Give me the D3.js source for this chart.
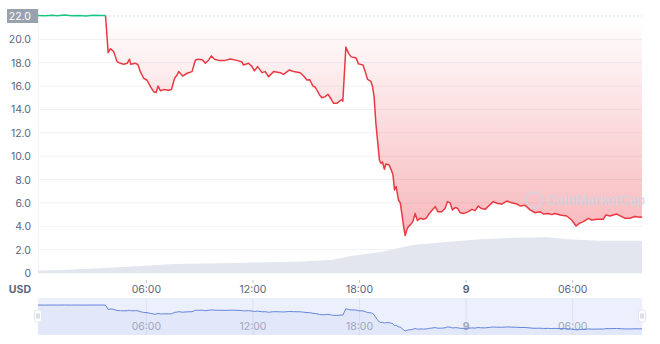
<!DOCTYPE html>
<meta charset="utf-8">
<style>
body { margin: 0; background: #fff; }
text { font-family: Inter, "Noto Sans", sans-serif; }
.ytick { font-size: 10.5px; fill: #58667e; }
.xtick { font-size: 10.5px; fill: #58667e; }
.navtick { font-size: 10.5px; fill: #a1a7bb; }
</style>
<svg width="660" height="344"></svg>
<script src="https://d3js.org/d3.v7.min.js"></script>
<script>

// hours since 00:00 on the 8th, and price in USD
var priceHours = [-0.1, 0.3, 0.7, 1.0, 1.4, 1.8, 2.2, 2.6, 3.0, 3.4, 3.7,
  3.85, 3.98, 4.16, 4.35, 4.54, 4.72, 4.92, 5.05, 5.12, 5.38, 5.52, 5.66, 5.85, 6.04, 6.23, 6.41, 6.55, 6.66, 6.79, 6.97,
  7.26, 7.41, 7.59, 7.73, 7.82, 8.04, 8.29, 8.57, 8.76, 8.94, 9.17, 9.32, 9.51, 9.66, 9.84, 10.07, 10.44, 10.73, 11.1,
  11.38, 11.47, 11.75, 11.95, 12.08, 12.26, 12.51, 12.69, 12.88, 13.16, 13.54, 13.72, 14.06, 14.29, 14.66, 14.85, 15.04,
  15.19, 15.38, 15.51, 15.75, 15.88, 16.07, 16.22, 16.41, 16.54, 16.73, 16.91, 17.01, 17.06, 17.23, 17.38, 17.53, 17.7,
  17.81, 17.94, 18.19, 18.32, 18.45, 18.64, 18.73, 18.82, 18.92, 19.01, 19.12, 19.2, 19.29, 19.4, 19.48, 19.67, 19.82,
  19.88, 19.97, 20.06, 20.19, 20.29, 20.38, 20.48, 20.57, 20.66, 20.75, 20.85, 21.0, 21.13, 21.26, 21.41, 21.6, 21.75,
  21.93, 22.07, 22.26, 22.41, 22.63, 22.82, 22.95, 23.1, 23.23, 23.38, 23.51, 23.66, 23.89, 24.13, 24.32, 24.5, 24.69,
  24.83, 25.07, 25.31, 25.53, 25.73, 26.01, 26.29, 26.57, 26.85, 27.04, 27.32, 27.6, 27.88, 28.16, 28.35, 28.63, 28.82,
  29.0, 29.29, 29.66, 29.94, 30.19, 30.37, 30.6, 30.88, 31.07, 31.35, 31.72, 31.87, 32.1, 32.47, 32.76, 32.94, 33.22,
  33.5, 33.78, 33.9];
var prices = [22.05, 22.02, 22.06, 22.03, 22.08, 22.02, 22.05, 22.0, 22.06, 22.04, 22.04,
  18.86, 19.2, 18.95, 18.1, 17.95, 17.87, 17.95, 18.3, 17.87, 17.95, 17.85, 17.24, 16.67, 16.5, 15.95, 15.52, 15.45, 16.0, 15.6, 15.7,
  15.65, 15.7, 16.67, 16.95, 17.24, 16.86, 17.1, 17.24, 18.24, 18.3, 18.24, 17.95, 18.24, 18.58, 18.3, 18.2, 18.2, 18.32, 18.2,
  18.06, 17.8, 17.95, 17.67, 17.3, 17.67, 17.15, 17.24, 16.8, 17.24, 17.15, 17.0, 17.38, 17.24, 17.15, 16.86, 16.52,
  16.55, 16.0, 15.9, 15.24, 15.0, 15.1, 15.3, 14.87, 14.53, 14.53, 14.75, 14.85, 14.7, 19.35, 18.8, 18.5, 18.45,
  18.4, 17.9, 17.8, 17.24, 16.58, 16.4, 15.96, 15.1, 12.8, 11.39, 9.67, 9.39, 9.5, 8.88, 9.33, 9.25, 8.68,
  8.4, 7.1, 7.4, 6.25, 6.0, 5.11, 4.0, 3.2, 3.7, 3.97, 4.1, 4.4, 5.1, 4.5, 4.68, 4.6, 4.68,
  5.1, 5.34, 5.68, 5.25, 5.25, 5.54, 6.11, 6.0, 5.4, 5.6, 5.55, 5.16, 5.1, 5.25, 5.45, 5.34, 5.74,
  5.54, 5.45, 5.8, 6.11, 5.97, 5.9, 6.16, 6.02, 5.9, 5.74, 5.8, 5.4, 5.16, 5.25, 5.05, 5.1, 5.0,
  5.1, 4.97, 4.88, 4.54, 4.02, 4.25, 4.4, 4.68, 4.54, 4.6, 4.6, 4.97, 4.88, 5.05, 4.83, 4.68, 4.68,
  4.83, 4.77, 4.8];
var openPrice = 22.0;
var greenCount = 11; // points at or above the open price

// 24h volume, millions USD
var volumeHours = [-0.1, 1.2, 3.4, 5.7, 7.5, 10.2, 12.4, 14.7, 16.4, 17.5, 19.2, 21.0, 22.9, 24.8, 26.9, 28.6, 29.7, 31.5, 33.9];
var volumes = [1.9, 2.3, 3.7, 5.4, 7.0, 7.5, 8.2, 8.9, 10.1, 13.2, 16.3, 21.8, 24.1, 26.2, 27.5, 27.8, 26.2, 25.1, 25.1];

var yTicks = [0, 2, 4, 6, 8, 10, 12, 14, 16, 18, 20];
var xTicks = [6, 12, 18, 24, 30];
var xTickLabels = ["06:00", "12:00", "18:00", "9", "06:00"];

var svg = d3.select("svg");

var x = d3.scaleLinear().domain([-0.1, 33.9]).range([38, 642]),
    y = d3.scaleLinear().domain([0, 22]).range([273, 16]),
    yVol = d3.scaleLinear().domain([0, 200]).range([273, 16]);

var defs = svg.append("defs");
var grad = defs.append("linearGradient")
    .attr("id", "redfill")
    .attr("gradientUnits", "userSpaceOnUse")
    .attr("x1", 0).attr("x2", 0)
    .attr("y1", y(openPrice)).attr("y2", y(0));
grad.append("stop").attr("offset", 0).attr("stop-color", "#ea3943").attr("stop-opacity", 0.0);
grad.append("stop").attr("offset", 1).attr("stop-color", "#ea3943").attr("stop-opacity", 0.42);

// grid
svg.append("g").selectAll("line")
  .data(yTicks)
  .enter().append("line")
    .attr("x1", 38).attr("x2", 642)
    .attr("y1", function(d) { return y(d); })
    .attr("y2", function(d) { return y(d); })
    .attr("stroke", "#eff2f5");

svg.append("line")
    .attr("x1", 38.5).attr("x2", 38.5)
    .attr("y1", 8).attr("y2", 273)
    .attr("stroke", "#f1f3f6");

// volume
var volPts = volumeHours.map(function(h, i) { return [h, volumes[i]]; });
svg.append("path")
    .datum(volPts)
    .attr("fill", "#e3e6ee")
    .attr("d", d3.area()
      .x(function(d) { return x(d[0]); })
      .y0(yVol(0))
      .y1(function(d) { return yVol(d[1]); }));

var pts = priceHours.map(function(h, i) { return [h, prices[i]]; });
var greenPts = pts.slice(0, greenCount),
    redPts = pts.slice(greenCount - 1);

var area = d3.area()
    .x(function(d) { return x(d[0]); })
    .y0(y(openPrice))
    .y1(function(d) { return y(d[1]); });
var line = d3.line()
    .x(function(d) { return x(d[0]); })
    .y(function(d) { return y(d[1]); });

svg.append("path").datum(redPts).attr("fill", "url(#redfill)").attr("d", area);
svg.append("path").datum(greenPts).attr("fill", "rgba(22,199,132,0.12)").attr("d", area);

// open price dotted line
svg.append("line")
    .attr("x1", x(priceHours[greenCount - 1])).attr("x2", 642)
    .attr("y1", y(openPrice)).attr("y2", y(openPrice))
    .attr("stroke", "#a6b0c3")
    .attr("stroke-dasharray", "1,3");

// watermark
var wm = svg.append("g").attr("opacity", 0.8);
wm.append("circle").attr("cx", 534).attr("cy", 200).attr("r", 8)
    .attr("fill", "none").attr("stroke", "#cfd6e4").attr("stroke-width", 2);
wm.append("text").attr("x", 547).attr("y", 205)
    .attr("font-size", "13px").attr("font-weight", 600)
    .attr("fill", "#cfd6e4").text("CoinMarketCap");

svg.append("path").datum(redPts)
    .attr("fill", "none").attr("stroke", "#ea3943").attr("stroke-width", 1.5)
    .attr("stroke-linejoin", "round").attr("d", line);
svg.append("path").datum(greenPts)
    .attr("fill", "none").attr("stroke", "#16c784").attr("stroke-width", 1.5)
    .attr("stroke-linejoin", "round").attr("d", line);

// y axis labels
svg.append("g").selectAll("text")
  .data(yTicks)
  .enter().append("text")
    .attr("class", "ytick")
    .attr("x", 31)
    .attr("y", function(d) { return y(d) + 4; })
    .attr("text-anchor", "end")
    .text(function(d) { return d === 0 ? "0" : d.toFixed(1); });

svg.append("rect")
    .attr("x", 7).attr("y", y(openPrice) - 7)
    .attr("width", 31).attr("height", 14)
    .attr("fill", "#9aa1ae");
svg.append("text")
    .attr("class", "ytick")
    .attr("x", 31).attr("y", y(openPrice) + 4)
    .attr("text-anchor", "end")
    .style("fill", "#fff")
    .text(openPrice.toFixed(1));

// x axis
svg.append("text")
    .attr("x", 31).attr("y", 293)
    .attr("text-anchor", "end")
    .attr("font-size", "10.5px").attr("font-weight", 700)
    .attr("fill", "#58667e").text("USD");

svg.append("g").selectAll("line")
  .data(xTicks)
  .enter().append("line")
    .attr("x1", function(d) { return x(d); })
    .attr("x2", function(d) { return x(d); })
    .attr("y1", 280).attr("y2", 283)
    .attr("stroke", "#c4cad6");

svg.append("g").selectAll("text")
  .data(xTicks)
  .enter().append("text")
    .attr("class", "xtick")
    .attr("x", function(d) { return x(d); })
    .attr("y", 293)
    .attr("text-anchor", "middle")
    .attr("font-weight", function(d, i) { return xTickLabels[i] === "9" ? 700 : 400; })
    .text(function(d, i) { return xTickLabels[i]; });

// navigator
var navTop = 298, navBottom = 335;
var yNav = d3.scaleLinear().domain(d3.extent(prices)).range([331, 305]);

svg.append("rect")
    .attr("x", 38).attr("y", navTop)
    .attr("width", 604).attr("height", navBottom - navTop)
    .attr("fill", "#eceffc");

svg.append("g").selectAll("line")
  .data(xTicks)
  .enter().append("line")
    .attr("x1", function(d) { return x(d); })
    .attr("x2", function(d) { return x(d); })
    .attr("y1", navTop).attr("y2", navBottom)
    .attr("stroke", "#dde1f0");

svg.append("path").datum(pts)
    .attr("fill", "rgba(100,130,225,0.07)")
    .attr("d", d3.area()
      .x(function(d) { return x(d[0]); })
      .y0(navBottom)
      .y1(function(d) { return yNav(d[1]); }));

svg.append("g").selectAll("text")
  .data(xTicks)
  .enter().append("text")
    .attr("class", "navtick")
    .attr("x", function(d) { return x(d); })
    .attr("y", 330)
    .attr("text-anchor", "middle")
    .attr("font-weight", function(d, i) { return xTickLabels[i] === "9" ? 700 : 400; })
    .text(function(d, i) { return xTickLabels[i]; });

svg.append("path").datum(pts)
    .attr("fill", "none").attr("stroke", "#6486dc").attr("stroke-width", 1)
    .attr("d", d3.line()
      .x(function(d) { return x(d[0]); })
      .y(function(d) { return yNav(d[1]); }));

// handles
[38, 642].forEach(function(hx) {
  var g = svg.append("g").attr("transform", "translate(" + hx + ",316)");
  g.append("rect").attr("x", -3.5).attr("y", -6).attr("width", 7).attr("height", 12)
      .attr("rx", 2).attr("fill", "#fff").attr("stroke", "#e1e4ec");
  g.append("line").attr("x1", -1).attr("x2", -1).attr("y1", -2.5).attr("y2", 2.5).attr("stroke", "#b8bdc9");
  g.append("line").attr("x1", 1).attr("x2", 1).attr("y1", -2.5).attr("y2", 2.5).attr("stroke", "#b8bdc9");
});

</script>
